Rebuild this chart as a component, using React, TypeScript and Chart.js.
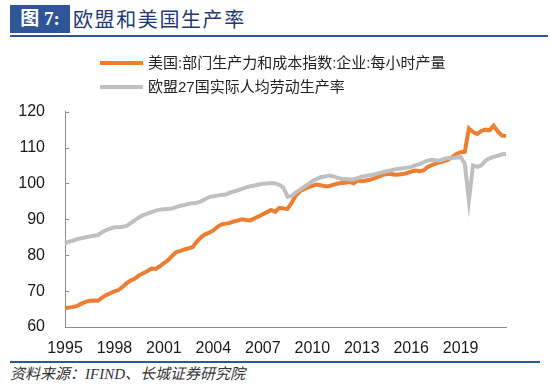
import React, { useEffect, useRef } from "react";
import { Chart, registerables } from "chart.js";

Chart.register(...registerables);

// Quarterly categories 1995Q4 .. 2022Q3 (108 points)
const START_YEAR = 1995;
const START_Q = 4;
const N = 108;
const categories: string[] = [];
for (let k = 0; k < N; k++) {
  const q0 = START_Q - 1 + k;
  const y = START_YEAR + Math.floor(q0 / 4);
  const q = (q0 % 4) + 1;
  categories.push(`${y}Q${q}`);
}

const usLabel = "美国:部门生产力和成本指数:企业:每小时产量";
const euLabel = "欧盟27国实际人均劳动生产率";

const usValues: number[] = [
  65.3, 65.4, 65.6, 65.9, 66.5, 67.0, 67.3, 67.4, 67.3, 68.2,
  68.9, 69.4, 69.9, 70.3, 71.2, 72.2, 73.0, 73.5, 74.4, 75.0,
  75.6, 76.3, 76.2, 76.9, 77.8, 78.6, 79.8, 80.9, 81.2, 81.6,
  81.9, 82.3, 83.8, 85.0, 85.8, 86.3, 86.9, 87.9, 88.6, 88.8,
  89.0, 89.4, 89.7, 90.0, 89.8, 89.7, 90.3, 90.8, 91.4, 92.0,
  92.6, 92.1, 93.2, 93.0, 92.9, 94.6, 96.6, 97.8, 98.4, 98.9,
  99.3, 99.7, 99.5, 99.2, 99.2, 99.6, 99.9, 100.1, 100.2, 100.4,
  100.0, 100.8, 100.6, 100.8, 101.0, 101.4, 101.8, 102.3, 102.6, 102.7,
  102.4, 102.5, 102.6, 102.9, 103.3, 103.6, 103.4, 103.6, 104.6, 105.1,
  105.5, 105.9, 106.2, 106.6, 107.4, 108.2, 108.7, 108.8, 115.3, 114.3,
  113.8, 114.6, 115.0, 114.8, 116.1, 114.5, 113.3, 113.2,
];

const euValues: number[] = [
  83.3, 83.8, 84.1, 84.5, 84.7, 85.0, 85.2, 85.4, 85.6, 86.4,
  87.0, 87.4, 87.8, 87.8, 87.9, 88.2, 89.0, 89.8, 90.6, 91.2,
  91.6, 92.0, 92.4, 92.7, 92.8, 92.9, 93.0, 93.4, 93.8, 94.0,
  94.3, 94.5, 94.6, 95.0, 95.6, 96.2, 96.4, 96.6, 96.8, 96.9,
  97.4, 97.8, 98.1, 98.5, 98.9, 99.2, 99.4, 99.7, 99.9, 100.0,
  100.1, 100.0, 99.6, 98.8, 96.3, 96.5, 97.5, 98.2, 99.0, 99.8,
  100.6, 101.2, 101.7, 101.9, 102.2, 102.0, 101.6, 101.3, 101.2, 101.1,
  101.1, 101.5, 101.9, 102.1, 102.3, 102.5, 102.8, 103.1, 103.4, 103.6,
  103.9, 104.1, 104.2, 104.4, 104.6, 105.0, 105.4, 105.9, 106.4, 106.6,
  106.4, 106.4, 106.8, 107.1, 107.1, 107.2, 107.3, 105.5, 95.3, 105.0,
  104.6, 105.0, 106.3, 107.0, 107.4, 107.7, 108.1, 108.2,
];

const yMin = 60;
const yMax = 120;
const yStep = 10;
const labelEvery = 12;

const ORANGE = "#ED7D31";
const GRAY = "#BFBFBF";
const BLUE = "#2E5597";
const AXIS = "#8C8C8C";

const innerTicks = {
  id: "innerTicks",
  afterDraw(chart: any) {
    const { ctx, chartArea } = chart;
    const xs = chart.scales.x;
    const ys = chart.scales.y;
    ctx.save();
    ctx.strokeStyle = AXIS;
    ctx.lineWidth = 1;
    ctx.beginPath();
    ys.ticks.forEach((_t: any, i: number) => {
      const y = Math.round(ys.getPixelForTick(i)) + 0.5;
      ctx.moveTo(chartArea.left, y);
      ctx.lineTo(chartArea.left + 4, y);
    });
    xs.ticks.forEach((_t: any, i: number) => {
      if (i > 0 && i % labelEvery === 0) {
        const x = Math.round(xs.getPixelForTick(i)) + 0.5;
        ctx.moveTo(x, chartArea.bottom);
        ctx.lineTo(x, chartArea.bottom - 4);
      }
    });
    ctx.stroke();
    ctx.restore();
  },
};

const CANVAS_TOP = 82;
const CANVAS_H = 275;

export default function App() {
  const ref = useRef<HTMLCanvasElement | null>(null);

  useEffect(() => {
    if (!ref.current) return;
    const chart = new Chart(ref.current, {
      type: "line",
      data: {
        labels: categories,
        datasets: [
          {
            label: usLabel,
            data: usValues,
            borderColor: ORANGE,
            backgroundColor: ORANGE,
            borderWidth: 4,
            pointRadius: 0,
            tension: 0,
            order: 2,
          },
          {
            label: euLabel,
            data: euValues,
            borderColor: GRAY,
            backgroundColor: GRAY,
            borderWidth: 4,
            pointRadius: 0,
            tension: 0,
            order: 1,
          },
        ],
      },
      options: {
        animation: false,
        responsive: false,
        maintainAspectRatio: false,
        layout: { padding: { top: 3, right: 44, left: 0, bottom: 0 } },
        plugins: {
          legend: { display: false },
          tooltip: { enabled: false },
        },
        scales: {
          x: {
            type: "category",
            offset: false,
            grid: { display: true, drawOnChartArea: false, drawTicks: false },
            border: { display: true, color: AXIS, width: 1 },
            afterFit(scale: any) {
              scale.height = 30;
            },
            ticks: {
              autoSkip: false,
              maxRotation: 0,
              minRotation: 0,
              padding: 12,
              color: "#1a1a1a",
              font: { family: "'Liberation Sans', Arial, sans-serif", size: 16 },
              callback: (_v: any, i: number) =>
                i % labelEvery === 0 ? categories[i].slice(0, 4) : null,
            },
          },
          y: {
            min: yMin,
            max: yMax,
            grid: { display: true, drawOnChartArea: false, drawTicks: false },
            border: { display: true, color: AXIS, width: 1 },
            afterFit(scale: any) {
              scale.width = 65;
            },
            ticks: {
              stepSize: yStep,
              padding: 20,
              color: "#1a1a1a",
              font: { family: "'Liberation Sans', Arial, sans-serif", size: 16 },
            },
          },
        },
      },
      plugins: [innerTicks],
    });
    return () => chart.destroy();
  }, []);

  const legendText: React.CSSProperties = {
    position: "absolute",
    left: 148,
    height: 20,
    lineHeight: "20px",
    fontSize: 15,
    color: "#222",
    fontFamily: "'Liberation Sans', 'Noto Sans CJK SC', sans-serif",
    whiteSpace: "nowrap",
  };

  return (
    <div
      style={{
        position: "fixed",
        left: 0,
        top: 0,
        width: 550,
        height: 384,
        background: "#fff",
        overflow: "hidden",
      }}
    >
      <canvas
        ref={ref}
        width={550}
        height={CANVAS_H}
        style={{ position: "absolute", left: 0, top: CANVAS_TOP, width: 550, height: CANVAS_H }}
      />

      <div
        style={{
          position: "absolute",
          left: 10,
          top: 5,
          width: 60,
          height: 28,
          background: BLUE,
          color: "#fff",
          fontWeight: "bold",
          fontSize: 19,
          lineHeight: "28px",
          textAlign: "center",
          fontFamily: "'Liberation Serif', 'Noto Sans CJK SC', serif",
          whiteSpace: "nowrap",
        }}
      >
        图 7:
      </div>
      <div
        style={{
          position: "absolute",
          left: 73,
          top: 5,
          height: 28,
          lineHeight: "28px",
          fontSize: 20,
          letterSpacing: 1.6,
          color: "#1F3A78",
          fontFamily: "'Noto Sans CJK SC', serif",
          whiteSpace: "nowrap",
        }}
      >
        欧盟和美国生产率
      </div>
      <div
        style={{
          position: "absolute",
          left: 10,
          top: 35,
          width: 538,
          height: 2,
          background: BLUE,
        }}
      />

      <div style={{ position: "absolute", left: 100, top: 61, width: 43, height: 4, background: ORANGE }} />
      <div style={{ ...legendText, top: 53 }}>{usLabel}</div>
      <div style={{ position: "absolute", left: 100, top: 85, width: 43, height: 4, background: GRAY }} />
      <div style={{ ...legendText, top: 77 }}>{euLabel}</div>

      <div
        style={{
          position: "absolute",
          left: 10,
          top: 361,
          width: 530,
          height: 2,
          background: BLUE,
        }}
      />
      <div
        style={{
          position: "absolute",
          left: 10,
          top: 364,
          height: 20,
          lineHeight: "20px",
          fontSize: 15,
          fontStyle: "italic",
          color: "#333",
          fontFamily: "'Liberation Serif', 'Noto Sans CJK SC', serif",
          whiteSpace: "nowrap",
        }}
      >
        资料来源：IFIND、长城证券研究院
      </div>
    </div>
  );
}
